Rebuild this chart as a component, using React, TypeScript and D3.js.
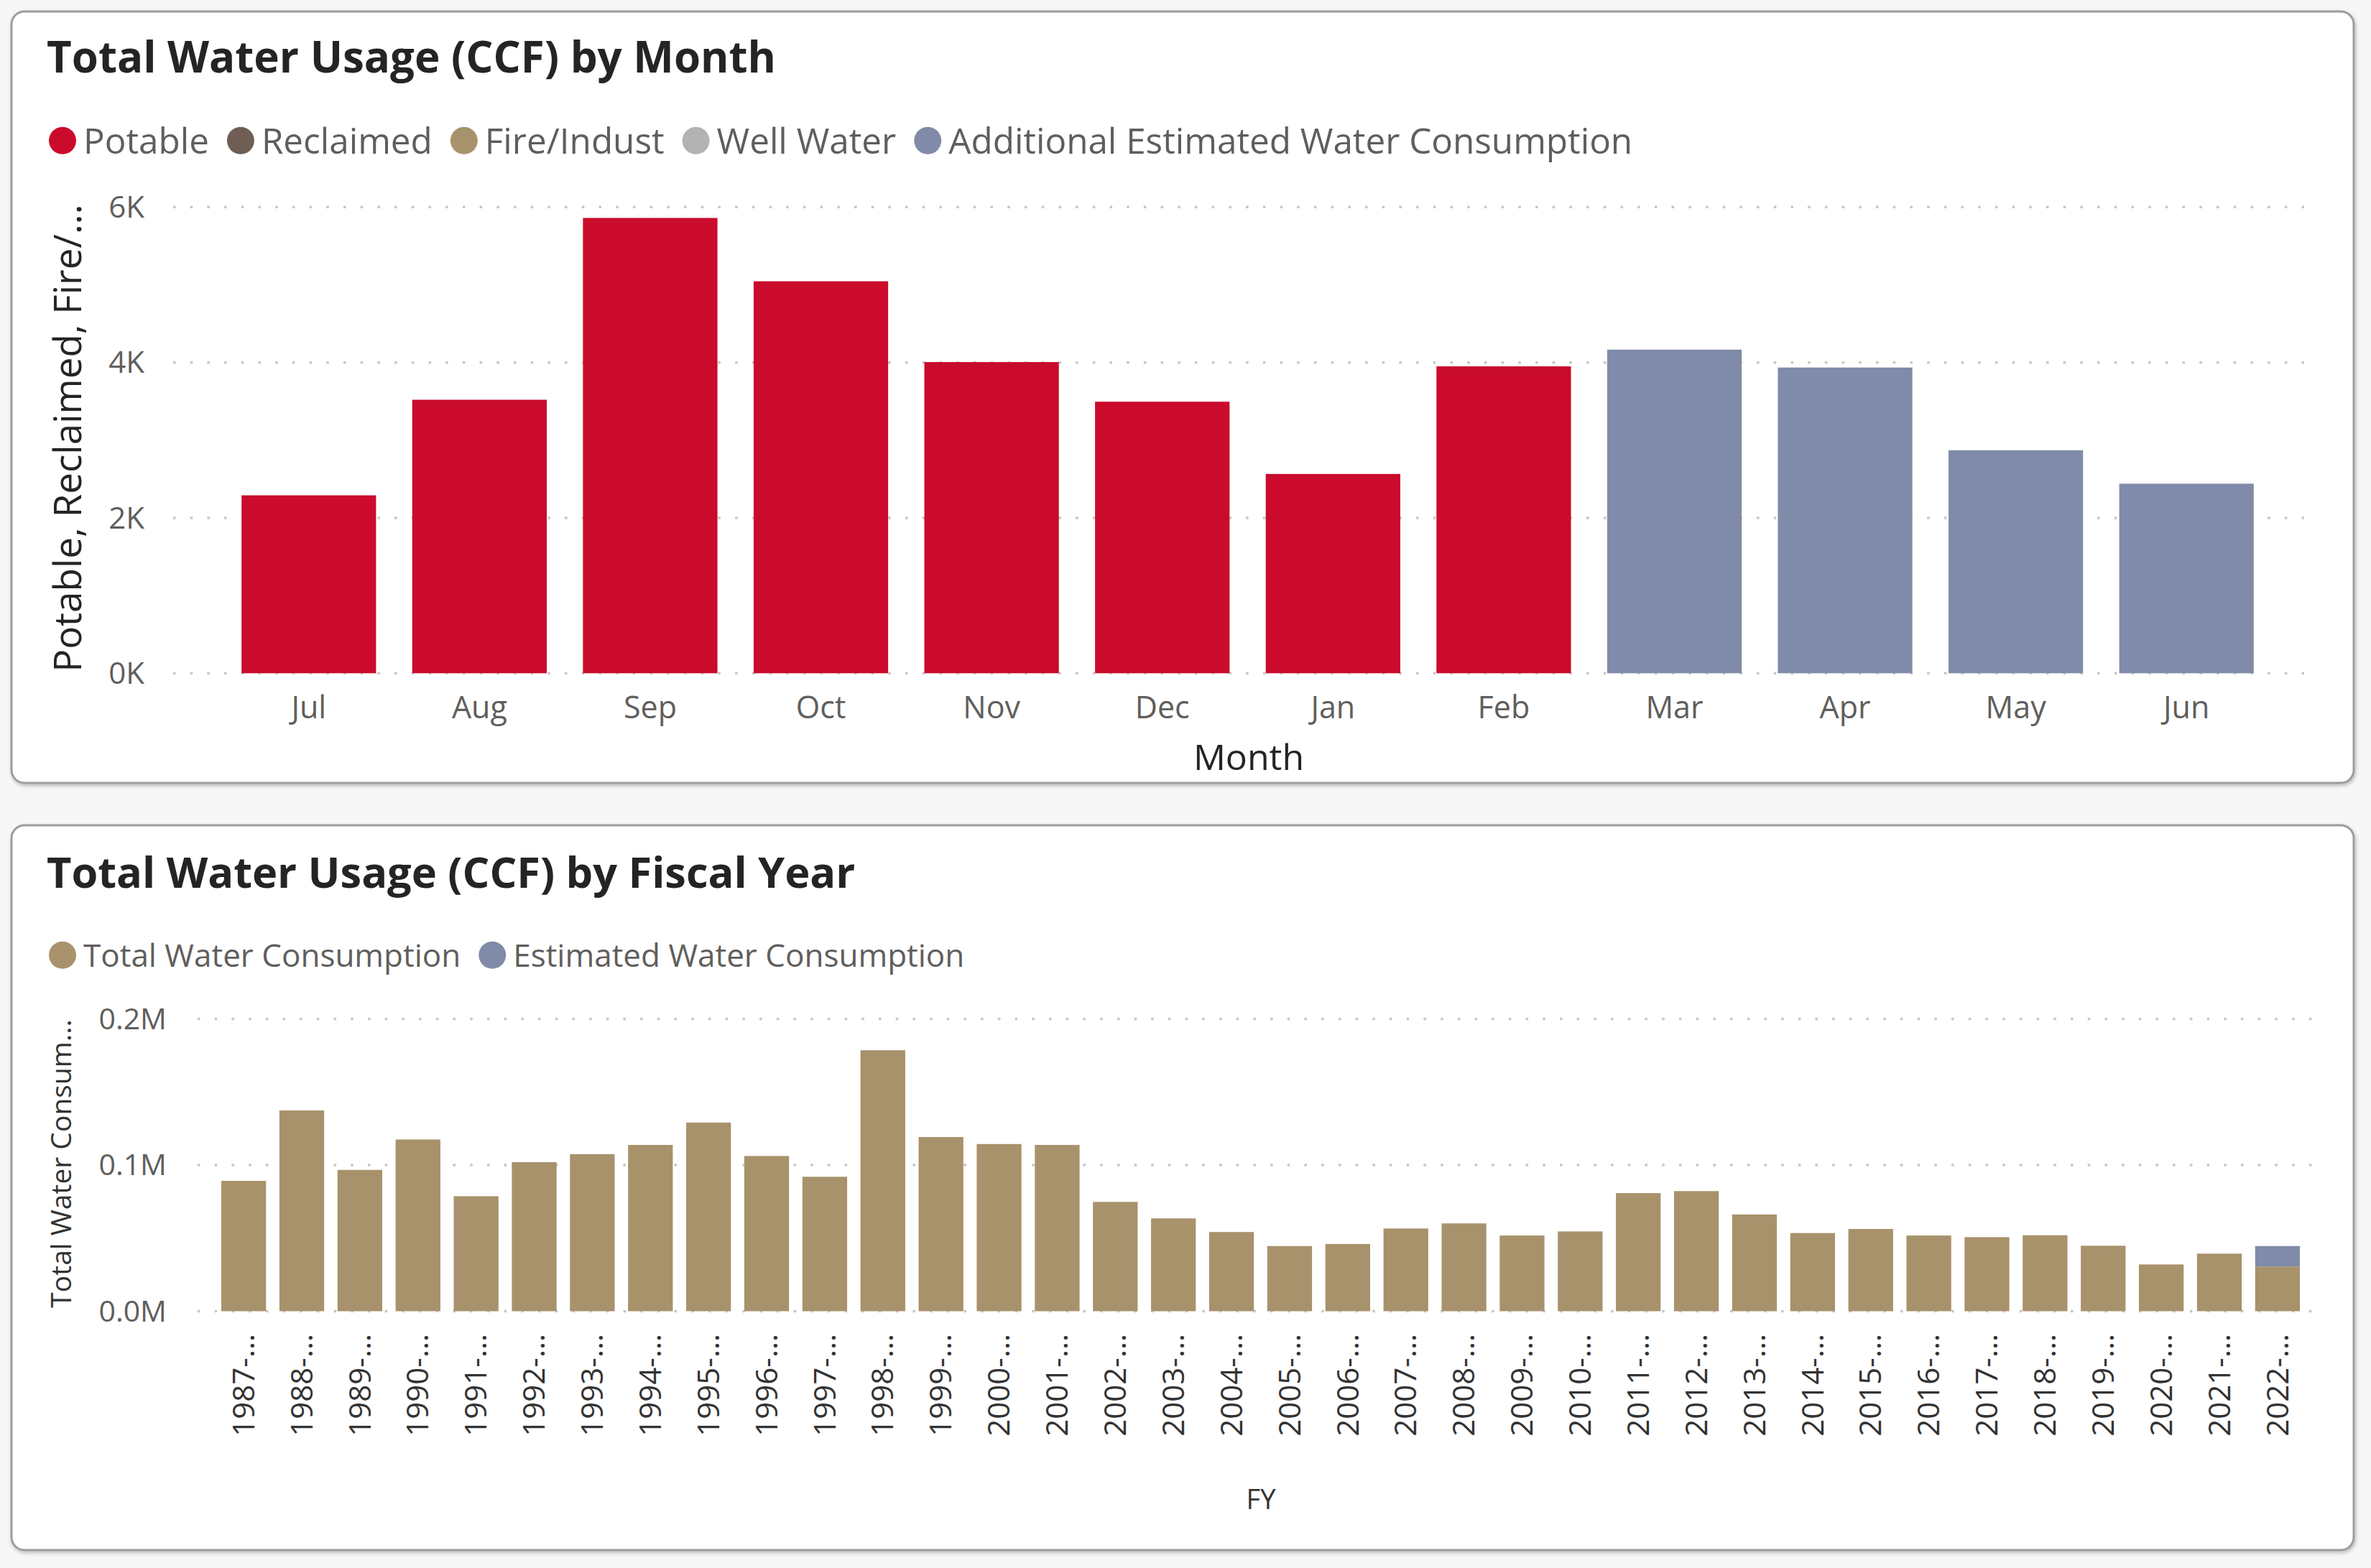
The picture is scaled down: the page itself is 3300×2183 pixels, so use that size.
import React from 'react';
import * as d3 from 'd3';

// ---------- DATA ----------
const months = ['Jul', 'Aug', 'Sep', 'Oct', 'Nov', 'Dec', 'Jan', 'Feb', 'Mar', 'Apr', 'May', 'Jun'];
const potable = [2290, 3520, 5860, 5045, 4005, 3495, 2565, 3950, 0, 0, 0, 0];
const reclaimed = [0, 0, 0, 0, 0, 0, 0, 0, 0, 0, 0, 0];
const fireIndust = [0, 0, 0, 0, 0, 0, 0, 0, 0, 0, 0, 0];
const wellWater = [0, 0, 0, 0, 0, 0, 0, 0, 0, 0, 0, 0];
const additionalEstimated = [0, 0, 0, 0, 0, 0, 0, 0, 4165, 3935, 2870, 2440];
const monthTicks = [0, 2000, 4000, 6000];
const monthTickLabels = ['0K', '2K', '4K', '6K'];

const fyLabels = [
  '1987-...', '1988-...', '1989-...', '1990-...', '1991-...', '1992-...', '1993-...', '1994-...', '1995-...',
  '1996-...', '1997-...', '1998-...', '1999-...', '2000-...', '2001-...', '2002-...', '2003-...', '2004-...',
  '2005-...', '2006-...', '2007-...', '2008-...', '2009-...', '2010-...', '2011-...', '2012-...', '2013-...',
  '2014-...', '2015-...', '2016-...', '2017-...', '2018-...', '2019-...', '2020-...', '2021-...', '2022-...',
];
const totalConsumption = [
  89200, 137400, 96700, 117500, 78700, 102000, 107500, 113800, 129100,
  106200, 92000, 178600, 119200, 114400, 113800, 74800, 63500, 54200,
  44600, 46000, 56600, 60100, 51800, 54600, 80800, 82200, 66200,
  53500, 56300, 51800, 50700, 52000, 44800, 32000, 39400, 30600,
];
const estimatedConsumption = [
  0, 0, 0, 0, 0, 0, 0, 0, 0,
  0, 0, 0, 0, 0, 0, 0, 0, 0,
  0, 0, 0, 0, 0, 0, 0, 0, 0,
  0, 0, 0, 0, 0, 0, 0, 0, 14000,
];
const fyTicks = [0, 100000, 200000];
const fyTickLabels = ['0.0M', '0.1M', '0.2M'];

const monthSeries = [
  { key: 'Potable', values: potable, color: '#CA0B2B' },
  { key: 'Reclaimed', values: reclaimed, color: '#6E5E53' },
  { key: 'Fire/Indust', values: fireIndust, color: '#A8926C' },
  { key: 'Well Water', values: wellWater, color: '#B3B3B3' },
  { key: 'Additional Estimated Water Consumption', values: additionalEstimated, color: '#7F8BA8' },
];
const fySeries = [
  { key: 'Total Water Consumption', values: totalConsumption, color: '#A8926C' },
  { key: 'Estimated Water Consumption', values: estimatedConsumption, color: '#7F8BA8' },
];

// ---------- STYLE ----------
const FONT = "'Open Sans', 'Noto Sans', sans-serif";
const TITLE_COLOR = '#252423';
const LABEL_COLOR = '#605E5C';
const GRID_COLOR = '#C8C6C4';

let _canvas: HTMLCanvasElement | null = null;
function measure(text: string, size: number, weight = 400): number {
  if (!_canvas) _canvas = document.createElement('canvas');
  const ctx = _canvas.getContext('2d')!;
  ctx.font = `${weight} ${size}px 'Open Sans'`;
  return ctx.measureText(text).width;
}

function Legend({ items, x, y, r, size, gap }: any) {
  let cx = x;
  const out: any[] = [];
  items.forEach((it: any, i: number) => {
    const tx = cx + r + 10;
    out.push(
      <g key={i}>
        <circle cx={cx} cy={y - size * 0.37} r={r} fill={it.color} />
        <text x={tx} y={y} fontSize={size} fill={LABEL_COLOR} fontFamily={FONT}>{it.key}</text>
      </g>
    );
    cx = tx + measure(it.key, size) + gap + r;
  });
  return <g>{out}</g>;
}

function Card({ x, y, w, h }: any) {
  return (
    <rect x={x} y={y} width={w} height={h} rx={18} ry={18} fill="#FFFFFF"
      stroke="#9C9C9C" strokeWidth={3} filter="url(#cardShadow)" />
  );
}

function Grid({ ticks, yScale, x0, x1 }: any) {
  return (
    <g>
      {ticks.map((t: number, i: number) => (
        <line key={i} x1={x0} x2={x1} y1={yScale(t)} y2={yScale(t)} stroke={GRID_COLOR}
          strokeWidth={3.5} strokeDasharray="3.5 20.2" />
      ))}
    </g>
  );
}

export default function App() {
  // ----- top chart -----
  const xM = d3.scaleBand<string>().domain(months).range([311, 3162]).paddingInner(0.212).paddingOuter(0.106);
  const yM = d3.scaleLinear().domain([0, 6000]).range([937.3, 288.3]);
  const monthRows = months.map((m, i) => {
    const row: any = { month: m };
    monthSeries.forEach((s) => (row[s.key] = s.values[i]));
    return row;
  });
  const stackM = d3.stack().keys(monthSeries.map((s) => s.key))(monthRows);

  // ----- bottom chart -----
  const xF = d3.scaleBand<string>().domain(fyLabels).range([298.7, 3210.3]).paddingInner(0.23).paddingOuter(0.115);
  const yF = d3.scaleLinear().domain([0, 200000]).range([1825.5, 1418.6]);
  const fyRows = fyLabels.map((f, i) => {
    const row: any = { fy: f };
    fySeries.forEach((s) => (row[s.key] = s.values[i]));
    return row;
  });
  const stackF = d3.stack().keys(fySeries.map((s) => s.key))(fyRows);

  return (
    <div style={{ position: 'absolute', left: 0, top: 0, width: 3300, height: 2183 }}>
      <svg width={3300} height={2183} style={{ display: 'block' }} fontFamily={FONT}>
        <defs>
          <filter id="cardShadow" x="-5%" y="-5%" width="110%" height="110%">
            <feDropShadow dx="1.5" dy="2.5" stdDeviation="2.5" floodColor="#000" floodOpacity="0.25" />
          </filter>
        </defs>
        <rect x={0} y={0} width={3300} height={2183} fill="#F7F7F7" />

        {/* ===== TOP CARD ===== */}
        <Card x={16} y={16} w={3260} h={1074} />
        <text x={65} y={101} fontSize={60} fontWeight={700} fill={TITLE_COLOR}>Total Water Usage (CCF) by Month</text>
        <Legend items={monthSeries} x={87} y={214} r={19} size={49.4} gap={25} />

        <Grid ticks={monthTicks} yScale={yM} x0={241} x1={3222} />
        {monthTicks.map((t, i) => (
          <text key={i} x={201} y={yM(t)} dy="0.35em" textAnchor="end" fontSize={42} fill={LABEL_COLOR}>
            {monthTickLabels[i]}
          </text>
        ))}
        {stackM.map((layer, li) => (
          <g key={li} fill={monthSeries[li].color}>
            {layer.map((d: any, i: number) =>
              d[1] - d[0] > 0 ? (
                <rect key={i} x={xM(months[i])} width={xM.bandwidth()} y={yM(d[1])} height={yM(d[0]) - yM(d[1])} />
              ) : null
            )}
          </g>
        ))}
        {months.map((m, i) => (
          <text key={i} x={(xM(m) as number) + xM.bandwidth() / 2} y={1000} textAnchor="middle" fontSize={43} fill={LABEL_COLOR}>
            {m}
          </text>
        ))}
        <text x={1738} y={1072} textAnchor="middle" fontSize={50} fill={TITLE_COLOR}>Month</text>
        <text transform="translate(113,610) rotate(-90)" textAnchor="middle" fontSize={53} fill={TITLE_COLOR}>
          Potable, Reclaimed, Fire/...
        </text>

        {/* ===== BOTTOM CARD ===== */}
        <Card x={16} y={1149} w={3260} h={1009} />
        <text x={65} y={1236} fontSize={59.5} fontWeight={700} fill={TITLE_COLOR}>Total Water Usage (CCF) by Fiscal Year</text>
        <Legend items={fySeries} x={87} y={1346} r={19} size={44} gap={25} />

        <Grid ticks={fyTicks} yScale={yF} x0={275} x1={3231} />
        {fyTicks.map((t, i) => (
          <text key={i} x={232} y={yF(t)} dy="0.35em" textAnchor="end" fontSize={41} fill={LABEL_COLOR}>
            {fyTickLabels[i]}
          </text>
        ))}
        {stackF.map((layer, li) => (
          <g key={li} fill={fySeries[li].color}>
            {layer.map((d: any, i: number) =>
              d[1] - d[0] > 0 ? (
                <rect key={i} x={xF(fyLabels[i])} width={xF.bandwidth()} y={yF(d[1])} height={yF(d[0]) - yF(d[1])} />
              ) : null
            )}
          </g>
        ))}
        {fyLabels.map((f, i) => (
          <text key={i} transform={`translate(${(xF(f) as number) + xF.bandwidth() / 2},1857) rotate(-90)`}
            textAnchor="end" dy="0.35em" fontSize={42} fill="#333333">
            {f}
          </text>
        ))}
        <text x={1755} y={2101} textAnchor="middle" fontSize={38} fill="#333333">FY</text>
        <text transform="translate(99,1620) rotate(-90)" textAnchor="middle" fontSize={39} fill="#333333">
          Total Water Consum...
        </text>
      </svg>
    </div>
  );
}
